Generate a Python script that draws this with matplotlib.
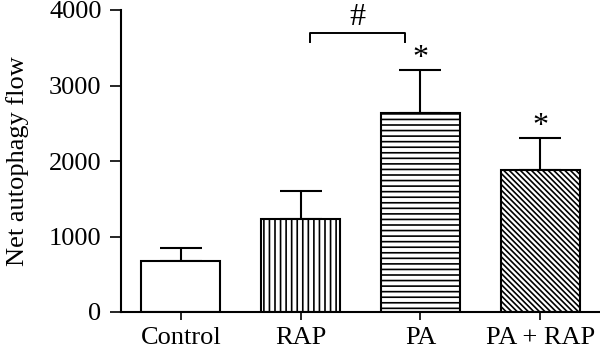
import matplotlib
matplotlib.use("Agg")
import matplotlib.pyplot as plt

# Data
groups = ["Control", "RAP", "PA", "PA + RAP"]
means = [675, 1230, 2635, 1880]
errors = [175, 375, 570, 425]
hatches = ["", "|||", "---", "\\\\\\\\\\\\"]
stars = ["", "", "*", "*"]

plt.rcParams["font.family"] = ["Liberation Serif", "DejaVu Serif"]
plt.rcParams["hatch.linewidth"] = 1.2

fig = plt.figure(figsize=(6, 3.51), dpi=100)
ax = fig.add_axes([121 / 600, 1 - 312 / 351, 1 - 121 / 600, 302 / 351])

x = range(len(groups))
ax.bar(x, means, width=0.66, color="white", edgecolor="black",
       linewidth=1.5, hatch=hatches, zorder=2)
ax.errorbar(x, means, yerr=[[0] * len(errors), errors], fmt="none",
            ecolor="black", elinewidth=1.5, capsize=15, capthick=1.5, zorder=1)

# significance marks
for i, s in enumerate(stars):
    if s:
        ax.text(i, means[i] + errors[i] + 150, s, ha="center", va="center",
                fontsize=23)

# bracket RAP vs PA
bx0, bx1, by, bdrop = 1.075, 1.87, 3695, 120
ax.plot([bx0, bx0, bx1, bx1], [by - bdrop, by, by, by - bdrop],
        color="black", linewidth=1.4, clip_on=False)
ax.text((bx0 + bx1) / 2, 3900, "#", ha="center", va="center", fontsize=23)

ax.set_xlim(-0.5, 3.5)
ax.set_ylim(0, 4000)
ax.set_yticks([0, 1000, 2000, 3000, 4000])
ax.set_xticks(list(x))
ax.set_xticklabels(groups)
ax.set_ylabel("Net autophagy flow", fontsize=19, labelpad=14)

for side in ["top", "right"]:
    ax.spines[side].set_visible(False)
for side in ["left", "bottom"]:
    ax.spines[side].set_linewidth(1.5)
ax.tick_params(axis="y", length=8, width=1.2, labelsize=19, pad=6)
ax.tick_params(axis="x", length=6, width=1.2, labelsize=19, pad=5)

fig.savefig("out.png", dpi=100)
